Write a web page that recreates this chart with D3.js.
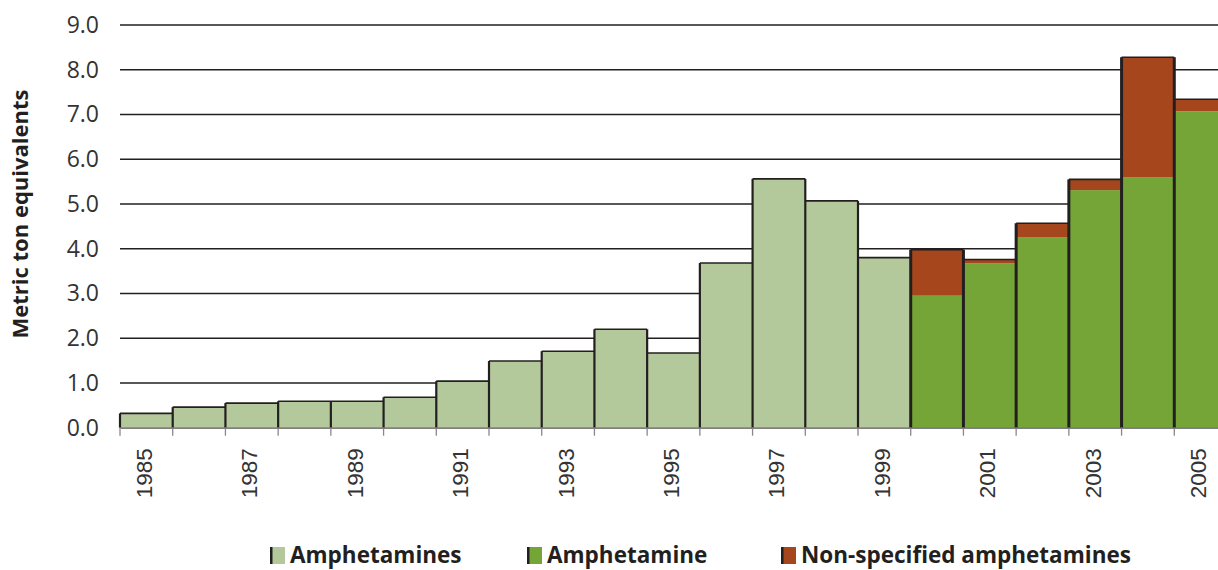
<!DOCTYPE html>
<html lang="en">
<head>
    <meta charset="UTF-8">
    <title>amphetamines seizures</title>
    <script src="https://d3js.org/d3.v7.min.js"></script>
    <style>
        body { margin: 0; background: #fff; }
        svg { display: block; font-family: "Open Sans", sans-serif; }
    </style>
</head>
<body>
    <svg width="1218" height="570"></svg>
    <script>
        // data
        const years = ['1985','1986','1987','1988','1989','1990','1991','1992','1993','1994','1995',
                       '1996','1997','1998','1999','2000','2001','2002','2003','2004','2005'];
        const amphetamines = [0.32, 0.46, 0.55, 0.59, 0.59, 0.68, 1.04, 1.49, 1.71, 2.2, 1.67,
                              3.68, 5.56, 5.07, 3.8, 0, 0, 0, 0, 0, 0];
        const amphetamine = [0, 0, 0, 0, 0, 0, 0, 0, 0, 0, 0, 0, 0, 0, 0,
                             2.95, 3.67, 4.26, 5.31, 5.6, 7.07];
        const nonSpecified = [0, 0, 0, 0, 0, 0, 0, 0, 0, 0, 0, 0, 0, 0, 0,
                              1.03, 0.09, 0.31, 0.24, 2.68, 0.27];
        const yTicks = [0, 1, 2, 3, 4, 5, 6, 7, 8, 9];
        const xLabels = years.filter((d, i) => i % 2 === 0);
        const seriesNames = ['Amphetamines', 'Amphetamine', 'Non-specified amphetamines'];
        const colors = ['#b3c99c', '#74a536', '#a5461d'];
        const ink = '#231f20';

        const svg = d3.select('svg');

        const table = years.map((y, i) => ({
            year: y, a: amphetamines[i], b: amphetamine[i], c: nonSpecified[i]
        }));
        const stack = d3.stack().keys(['a', 'b', 'c'])(table);
        const totals = table.map(d => d.a + d.b + d.c);

        const x = d3.scaleBand().domain(years).range([120, 1227]).padding(0);
        const y = d3.scaleLinear().domain([0, 9]).range([427.7, 25]);

        // gridlines
        svg.append('g')
            .selectAll('line')
            .data(yTicks.filter(d => d > 0))
            .join('line')
            .attr('x1', 120).attr('x2', 1218)
            .attr('y1', d => y(d)).attr('y2', d => y(d))
            .attr('stroke', ink).attr('stroke-width', 1.4);

        // y axis labels
        const yAxis = d3.axisLeft(y).tickValues(yTicks).tickFormat(d3.format('.1f')).tickSize(0).tickPadding(21);
        const yg = svg.append('g').attr('transform', 'translate(120,0)').call(yAxis);
        yg.select('.domain').remove();
        yg.selectAll('text')
            .attr('font-size', 23)
            .attr('font-family', '"Open Sans", sans-serif')
            .attr('fill', '#333');

        // bars
        svg.append('g')
            .selectAll('g')
            .data(stack)
            .join('g')
            .attr('fill', (d, i) => colors[i])
            .selectAll('rect')
            .data(d => d.filter(p => p[1] - p[0] > 0))
            .join('rect')
            .attr('x', d => x(d.data.year))
            .attr('width', x.bandwidth())
            .attr('y', d => y(d[1]))
            .attr('height', d => y(d[0]) - y(d[1]));

        // top edges of the bars
        svg.append('g')
            .selectAll('line')
            .data(years)
            .join('line')
            .attr('x1', d => x(d)).attr('x2', d => x(d) + x.bandwidth())
            .attr('y1', (d, i) => y(totals[i])).attr('y2', (d, i) => y(totals[i]))
            .attr('stroke', ink).attr('stroke-width', 1.6);

        // vertical edges between bars, up to the taller neighbour
        svg.append('g')
            .selectAll('line')
            .data(years)
            .join('line')
            .attr('x1', d => x(d)).attr('x2', d => x(d))
            .attr('y1', y(0))
            .attr('y2', (d, i) => y(Math.max(totals[i], i > 0 ? totals[i - 1] : 0)))
            .attr('stroke', ink)
            .attr('stroke-width', (d, i) => i >= 15 ? 3 : 2.2);

        // x axis
        const xAxis = d3.axisBottom(x).tickValues([]).tickSize(0);
        const xg = svg.append('g').attr('transform', `translate(0,${y(0)})`).call(xAxis);
        xg.select('.domain').attr('stroke', '#555').attr('stroke-width', 1.3);

        xg.selectAll('.edge')
            .data(years)
            .join('line')
            .attr('class', 'edge')
            .attr('x1', d => x(d)).attr('x2', d => x(d))
            .attr('y1', 0).attr('y2', 8)
            .attr('stroke', '#888').attr('stroke-width', 1.3);

        xg.selectAll('.lbl')
            .data(xLabels)
            .join('text')
            .attr('class', 'lbl')
            .attr('transform', d => `translate(${x(d) + x.bandwidth() / 2 + 5.5},20.5) rotate(-90)`)
            .attr('text-anchor', 'end')
            .attr('font-size', 22.5)
            .attr('fill', '#333')
            .text(d => d);

        // y title
        svg.append('text')
            .attr('transform', 'translate(28,214) rotate(-90)')
            .attr('text-anchor', 'middle')
            .attr('font-size', 22)
            .attr('font-weight', 'bold')
            .attr('fill', ink)
            .text('Metric ton equivalents');

        // legend
        const legendX = [270, 527, 781];
        const lg = svg.append('g')
            .selectAll('g')
            .data(seriesNames)
            .join('g')
            .attr('transform', (d, i) => `translate(${legendX[i]},547)`);
        lg.append('rect')
            .attr('width', 15).attr('height', 17)
            .attr('fill', (d, i) => colors[i]);
        lg.append('rect')
            .attr('width', 2.5).attr('height', 17)
            .attr('fill', ink);
        lg.append('text')
            .attr('x', 20).attr('y', 16)
            .attr('font-size', 22.5)
            .attr('font-weight', 'bold')
            .attr('fill', ink)
            .text(d => d);
    </script>
</body>
</html>
